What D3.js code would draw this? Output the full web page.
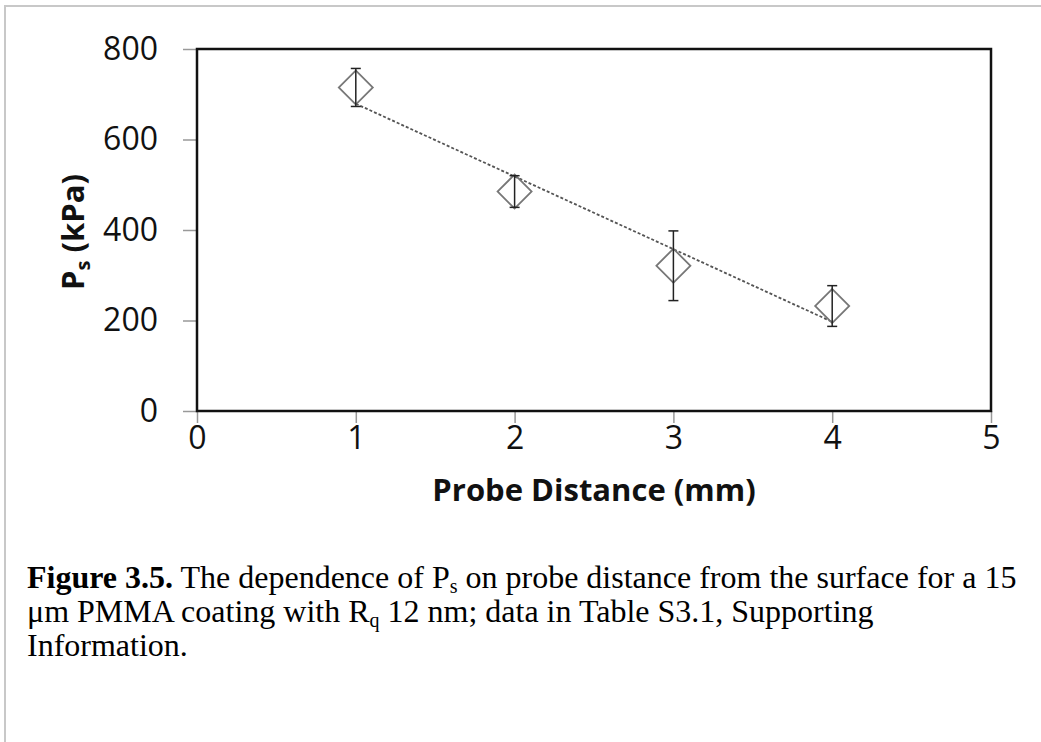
<!DOCTYPE html>
<html>
<head>
<meta charset="utf-8">
<script src="https://cdn.jsdelivr.net/npm/d3@7"></script>
<style>
  body { margin: 0; background: #fff; }
  text { white-space: pre; }
</style>
</head>
<body>
<script>
// data
var distances = [1, 2, 3, 4];          // probe distance (mm)
var pressures = [715, 485, 321, 232];  // Ps (kPa)
var errors = [42, 35, 77, 45];         // +/- error
var trendX = [1, 4];                   // linear trendline ends
var trendY = [679, 197];
var xTicks = [0, 1, 2, 3, 4, 5];
var yTicks = [0, 200, 400, 600, 800];

var W = 1041, H = 742;
var plotL = 197, plotR = 991, plotT = 49, plotB = 411;
var chartFont = "'Open Sans', 'DejaVu Sans', sans-serif";
var capFont = "'Liberation Serif', 'Times New Roman', serif";

var svg = d3.select("body").append("svg")
    .attr("width", W)
    .attr("height", H);

// page frame (light gray)
svg.append("rect")
    .attr("x", 5).attr("y", 6)
    .attr("width", W + 20).attr("height", H + 20)
    .attr("fill", "none")
    .attr("stroke", "#c8c8c8")
    .attr("stroke-width", 2);

var x = d3.scaleLinear().domain([0, 5]).range([plotL, plotR]);
var y = d3.scaleLinear().domain([0, 800]).range([plotB, plotT]);

// axes
var gx = svg.append("g")
    .attr("transform", "translate(0," + plotB + ")")
    .call(d3.axisBottom(x).tickValues(xTicks).tickSize(12).tickSizeOuter(0).tickFormat(d3.format("d")));
gx.select(".domain").remove();
gx.selectAll(".tick line").attr("stroke", "#999").attr("stroke-width", 1.5);
gx.selectAll(".tick text")
    .attr("y", 38).attr("dy", null)
    .attr("font-family", chartFont)
    .attr("font-size", 32)
    .attr("fill", "#111");

var gy = svg.append("g")
    .attr("transform", "translate(" + plotL + ",0)")
    .call(d3.axisLeft(y).tickValues(yTicks).tickSize(14).tickPadding(25).tickSizeOuter(0).tickFormat(d3.format("d")));
gy.select(".domain").remove();
gy.selectAll(".tick line").attr("stroke", "#999").attr("stroke-width", 1.5);
gy.selectAll(".tick text")
    .attr("font-family", chartFont)
    .attr("font-size", 32)
    .attr("fill", "#111");

// plot frame
svg.append("rect")
    .attr("x", plotL).attr("y", plotT)
    .attr("width", plotR - plotL).attr("height", plotB - plotT)
    .attr("fill", "none")
    .attr("stroke", "#111")
    .attr("stroke-width", 2.5);

// trendline (dotted)
var line = d3.line().x(function (d) { return x(d[0]); }).y(function (d) { return y(d[1]); });
svg.append("path")
    .datum(d3.zip(trendX, trendY))
    .attr("d", line)
    .attr("fill", "none")
    .attr("stroke", "#555")
    .attr("stroke-width", 1.8)
    .attr("stroke-dasharray", "3,2");

var pts = distances.map(function (d, i) { return { x: d, v: pressures[i], e: errors[i] }; });

// diamond markers
svg.selectAll(".pt")
    .data(pts)
    .enter().append("path")
    .attr("class", "pt")
    .attr("d", d3.symbol().type(d3.symbolSquare).size(578))
    .attr("transform", function (d) { return "translate(" + x(d.x) + "," + y(d.v) + ") rotate(45)"; })
    .attr("fill", "none")
    .attr("stroke", "#777")
    .attr("stroke-width", 1.8);

// error bars
var eb = svg.selectAll(".eb").data(pts).enter().append("g").attr("class", "eb")
    .attr("stroke", "#222").attr("stroke-width", 1.5);
eb.append("line")
    .attr("x1", function (d) { return x(d.x); }).attr("x2", function (d) { return x(d.x); })
    .attr("y1", function (d) { return y(d.v + d.e); }).attr("y2", function (d) { return y(d.v - d.e); });
eb.append("line")
    .attr("x1", function (d) { return x(d.x) - 5; }).attr("x2", function (d) { return x(d.x) + 5; })
    .attr("y1", function (d) { return y(d.v + d.e); }).attr("y2", function (d) { return y(d.v + d.e); });
eb.append("line")
    .attr("x1", function (d) { return x(d.x) - 5; }).attr("x2", function (d) { return x(d.x) + 5; })
    .attr("y1", function (d) { return y(d.v - d.e); }).attr("y2", function (d) { return y(d.v - d.e); });

// axis titles
svg.append("text")
    .attr("x", (plotL + plotR) / 2).attr("y", 501)
    .attr("text-anchor", "middle")
    .attr("font-family", chartFont)
    .attr("font-size", 31)
    .attr("font-weight", "bold")
    .attr("fill", "#111")
    .text("Probe Distance (mm)");

var yt = svg.append("text")
    .attr("transform", "translate(84,232) rotate(-90)")
    .attr("text-anchor", "middle")
    .attr("font-family", chartFont)
    .attr("font-size", 31)
    .attr("font-weight", "bold")
    .attr("fill", "#111");
yt.append("tspan").text("P");
yt.append("tspan").attr("font-size", 20).attr("dy", 6).text("s");
yt.append("tspan").attr("dy", -6).text(" (kPa)");

// caption
function capLine(yPos) {
    return svg.append("text")
        .attr("x", 27).attr("y", yPos)
        .attr("font-family", capFont)
        .attr("font-size", 32)
        .attr("fill", "#000");
}
var c1 = capLine(588);
c1.append("tspan").attr("font-weight", "bold").text("Figure 3.5.");
c1.append("tspan").text(" The dependence of P");
c1.append("tspan").attr("font-size", 20).attr("dy", 5).text("s");
c1.append("tspan").attr("dy", -5).text(" on probe distance from the surface for a 15");

var c2 = capLine(622);
c2.append("tspan").text("\u03bcm PMMA coating with R");
c2.append("tspan").attr("font-size", 20).attr("dy", 5).text("q");
c2.append("tspan").attr("dy", -5).text(" 12 nm; data in Table S3.1, Supporting");

var c3 = capLine(656);
c3.append("tspan").text("Information.");
</script>
</body>
</html>
